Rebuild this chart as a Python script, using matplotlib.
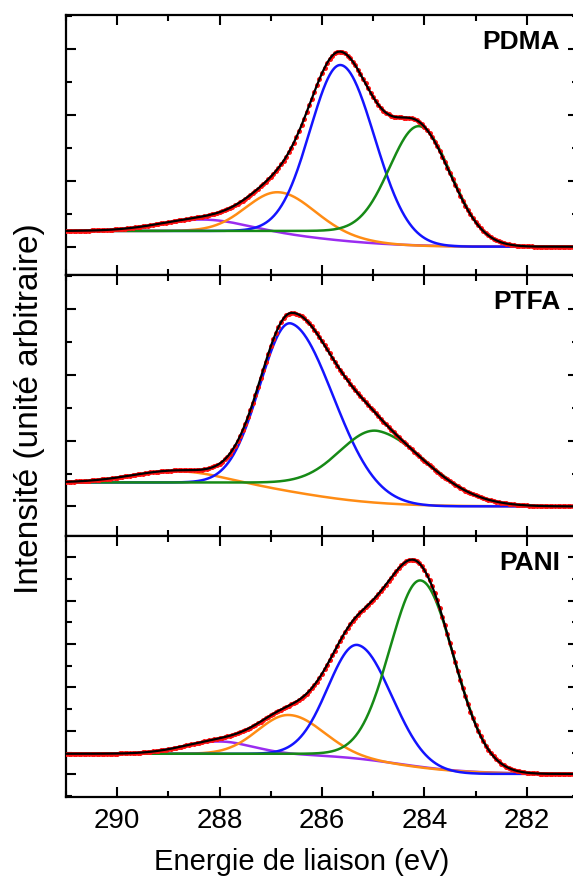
import numpy as np
import matplotlib.pyplot as plt
from matplotlib.ticker import MultipleLocator

plt.rcParams["font.family"] = ["Liberation Sans", "DejaVu Sans"]

# binding energy window, eV
e_hi = 291.0
e_lo = 281.0
e_step = 0.05

panel_names = ["PDMA", "PTFA", "PANI"]
panel_ylim = [(-0.86, 7.04), (-0.90, 7.04), (-1.04, 10.97)]

# background level on the high-BE side and on the low-BE side
bg_left = [0.48, 0.73, 0.95]
bg_right = [0.0, 0.0, 0.02]

# envelope background step (centre, width)
env_step_c = [285.3, 285.9, 285.0]
env_step_w = [0.45, 0.6, 0.5]

# fitted components: centre, height, sigma (high-BE side), sigma (low-BE side),
# background step centre, step width, colour
pdma_center = [288.30, 286.86, 285.62, 284.08]
pdma_height = [0.37, 1.20, 5.27, 3.39]
pdma_sig_hi = [0.85, 0.62, 0.60, 0.58]
pdma_sig_lo = [0.85, 0.68, 0.66, 0.62]
pdma_step_c = [286.0, 285.4, 285.6, 284.0]
pdma_step_w = [0.80, 0.50, 0.35, 0.35]
pdma_color = ["#9a2cf0", "#ff8c14", "#1414ff", "#168a16"]

ptfa_center = [288.79, 286.60, 284.88]
ptfa_height = [0.37, 5.20, 1.93]
ptfa_sig_hi = [0.90, 0.60, 0.72]
ptfa_sig_lo = [0.90, 0.85, 1.00]
ptfa_step_c = [286.3, 286.6, 284.9]
ptfa_step_w = [0.80, 0.40, 0.50]
ptfa_color = ["#ff8c14", "#1414ff", "#168a16"]

pani_center = [288.01, 286.65, 285.29, 284.06]
pani_height = [0.57, 1.83, 5.47, 8.40]
pani_sig_hi = [0.70, 0.60, 0.58, 0.60]
pani_sig_lo = [0.65, 0.68, 0.68, 0.65]
pani_step_c = [284.5, 284.6, 285.3, 284.0]
pani_step_w = [0.70, 0.70, 0.40, 0.40]
pani_color = ["#9a2cf0", "#ff8c14", "#1414ff", "#168a16"]

panel_comps = [
    (pdma_center, pdma_height, pdma_sig_hi, pdma_sig_lo, pdma_step_c, pdma_step_w, pdma_color),
    (ptfa_center, ptfa_height, ptfa_sig_hi, ptfa_sig_lo, ptfa_step_c, ptfa_step_w, ptfa_color),
    (pani_center, pani_height, pani_sig_hi, pani_sig_lo, pani_step_c, pani_step_w, pani_color),
]


def peak(e, c, h, s_hi, s_lo):
    s = np.where(e >= c, s_hi, s_lo)
    return h * np.exp(-0.5 * ((e - c) / s) ** 2)


def step(e, lo, hi, c, w):
    return lo + (hi - lo) / (1.0 + np.exp(-(e - c) / w))


fig = plt.figure(figsize=(5.73, 8.88), dpi=100)

# axes boxes in figure fraction (left, bottom, width, height)
boxes = [
    (0.1152, 0.6903, 0.8935, 0.2928),
    (0.1152, 0.3964, 0.8935, 0.2939),
    (0.1152, 0.1025, 0.8935, 0.2939),
]

e = np.linspace(e_lo, e_hi, 801)
e_pts = np.arange(e_lo, e_hi + 1e-9, e_step)

for i, name in enumerate(panel_names):
    ax = fig.add_axes(boxes[i])
    center, height, sig_hi, sig_lo, step_c, step_w, color = panel_comps[i]

    env = step(e, bg_right[i], bg_left[i], env_step_c[i], env_step_w[i])
    env_pts = step(e_pts, bg_right[i], bg_left[i], env_step_c[i], env_step_w[i])
    for k in range(len(center)):
        p = peak(e, center[k], height[k], sig_hi[k], sig_lo[k])
        bg = step(e, bg_right[i], bg_left[i], step_c[k], step_w[k])
        ax.plot(e, p + bg, color=color[k], lw=1.8, zorder=3 + k * 0.1)
        env = env + p
        env_pts = env_pts + peak(e_pts, center[k], height[k], sig_hi[k], sig_lo[k])

    ax.plot(e_pts, env_pts, "o", color="#ff1010", ms=3.6, mew=0, zorder=4)
    ax.plot(e, env, color="black", lw=1.6, zorder=5)

    ax.set_xlim(e_hi, e_lo)
    ax.set_ylim(*panel_ylim[i])
    ax.xaxis.set_major_locator(MultipleLocator(2))
    ax.xaxis.set_minor_locator(MultipleLocator(1))
    ax.yaxis.set_major_locator(MultipleLocator(2))
    ax.yaxis.set_minor_locator(MultipleLocator(1))
    ax.tick_params(which="both", direction="in", top=True, right=True, width=1.5)
    ax.tick_params(which="major", length=7)
    ax.tick_params(which="minor", length=4)
    ax.tick_params(axis="y", labelleft=False)
    ax.tick_params(axis="x", labelsize=20, pad=8)
    if i < 2:
        ax.tick_params(axis="x", labelbottom=False)
    for sp in ax.spines.values():
        sp.set_linewidth(1.6)

    ax.text(0.965, 0.895, name, transform=ax.transAxes, ha="right", va="center",
            fontsize=19, fontweight="bold")

fig.text(0.527, 0.029, "Energie de liaison (eV)", ha="center", va="center", fontsize=21)
fig.text(0.051, 0.54, "Intensité (unité arbitraire)", rotation=90, ha="center",
         va="center", fontsize=24)

fig.savefig("out.png", dpi=100)
